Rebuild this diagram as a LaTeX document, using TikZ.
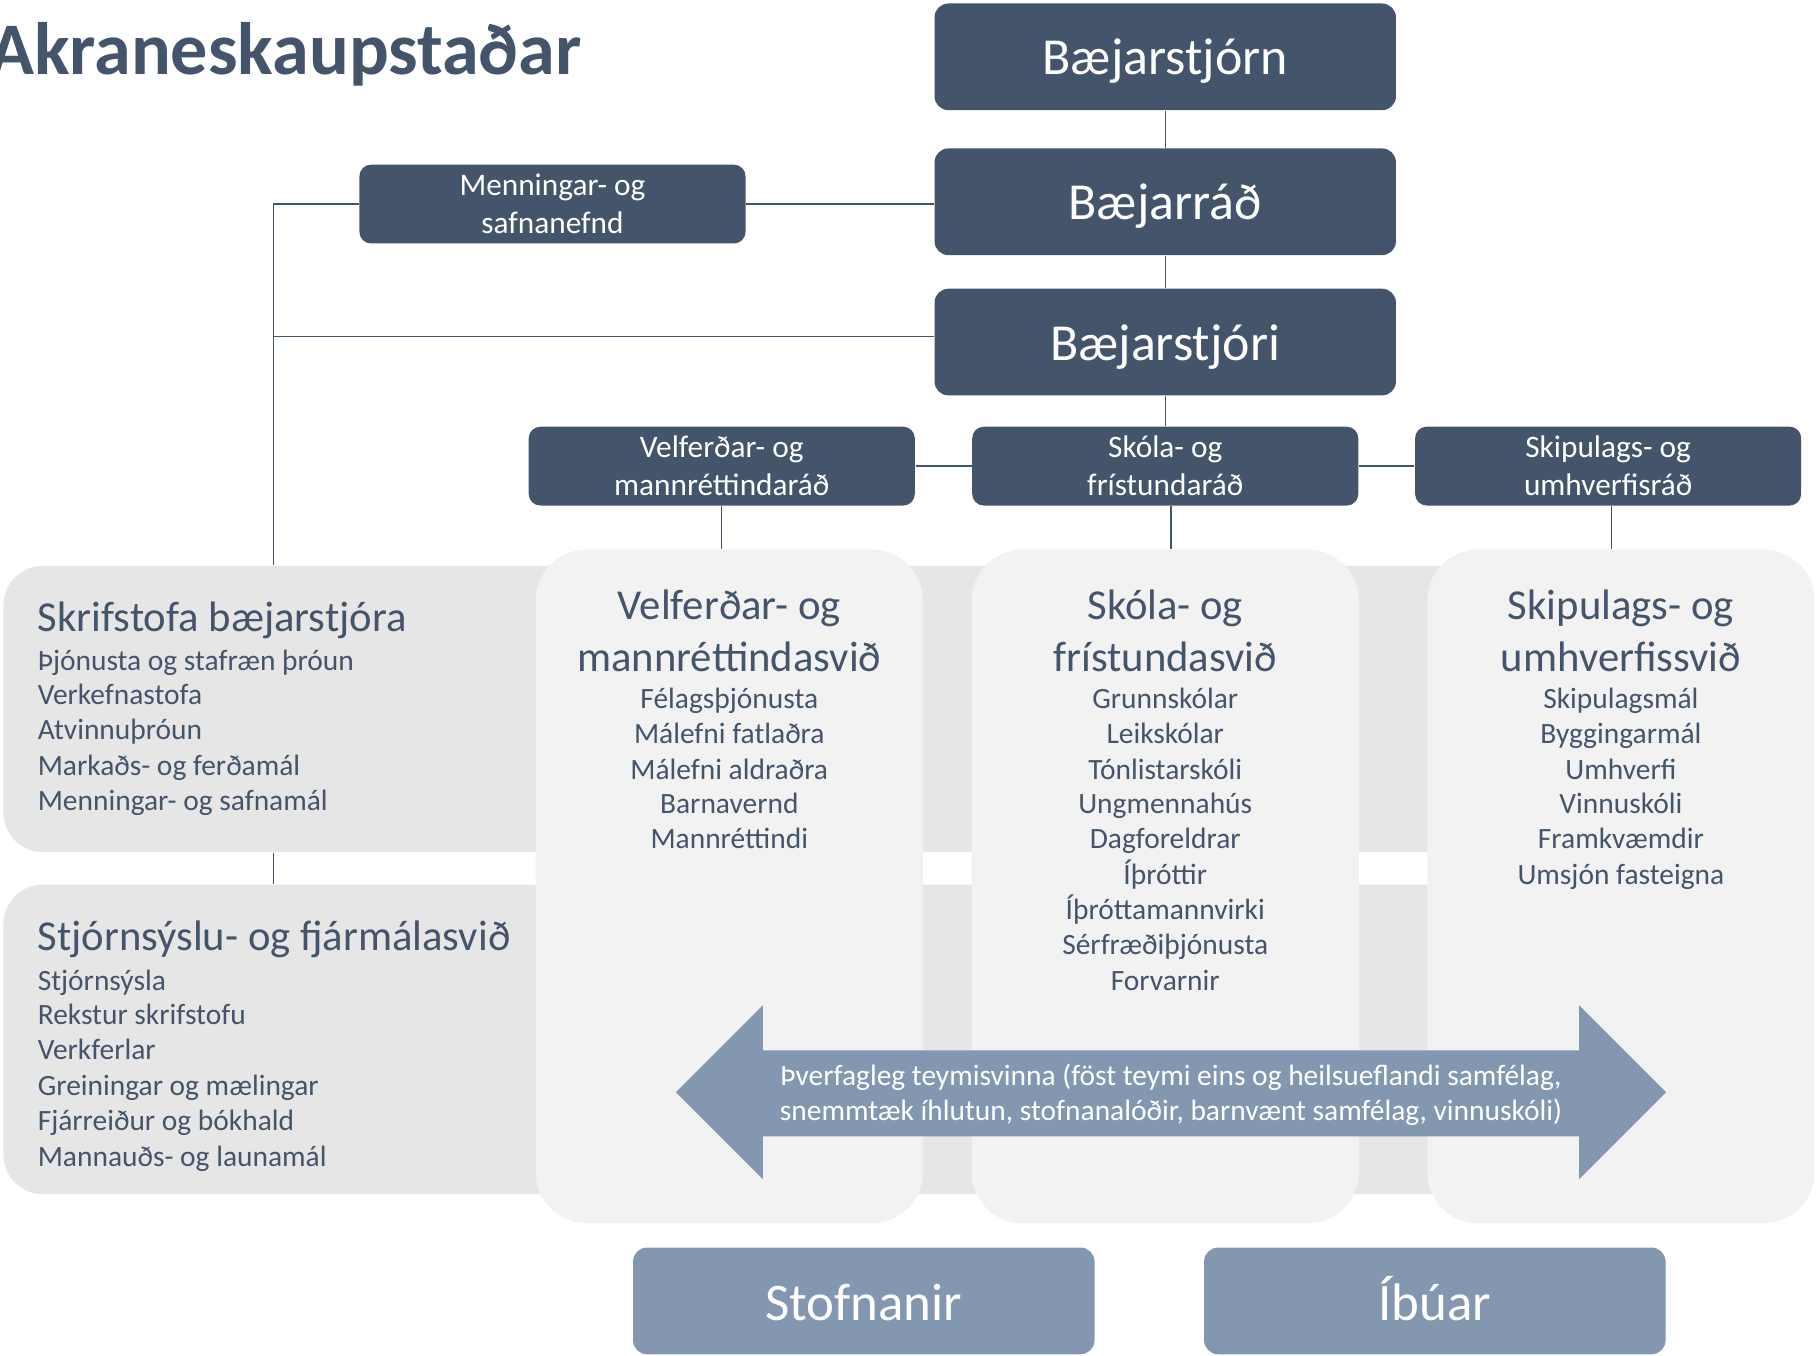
\documentclass[tikz,border=0pt]{standalone}
\usepackage{fontspec}
\setmainfont{Carlito}
\definecolor{slate}{HTML}{44546A}
\definecolor{steel}{HTML}{8497B0}
\definecolor{bandgrey}{HTML}{E7E6E6}
\definecolor{colgrey}{HTML}{F2F2F2}
\tikzset{every picture/.style={line width=0.6pt},
  toprole/.style={fill=slate,text=white,rounded corners=6pt,minimum width=199pt,minimum height=46pt,inner sep=0pt,text height=17.5pt,text depth=2pt,font=\fontsize{22.4}{27}\selectfont},
  lowrole/.style={fill=steel,text=white,rounded corners=6pt,minimum width=199pt,minimum height=46pt,inner sep=0pt,text height=19pt,text depth=2pt,font=\fontsize{22.8}{27}\selectfont},
  council/.style={fill=slate,text=white,rounded corners=5pt,minimum width=166.5pt,minimum height=34pt,inner sep=0pt,align=center,font=\fontsize{13.5}{16.5}\selectfont},
  band/.style={fill=bandgrey,rounded corners=17pt,minimum width=773.5pt,inner sep=0pt},
  column/.style={fill=colgrey,rounded corners=22pt,minimum width=167pt,minimum height=290.5pt,inner sep=0pt},
  linkline/.style={draw=slate,line width=0.6pt},
  head/.style={text=slate,inner sep=0pt,font=\fontsize{18.4}{22.5}\selectfont},
  item/.style={text=slate,inner sep=0pt,font=\fontsize{12.7}{15.2}\selectfont}
}
\begin{document}
\begin{tikzpicture}[x=0.5pt,y=0.5pt,yscale=-1,xscale=1]
\useasboundingbox (0,0) rectangle (1568,1169);

%Shape: Band
\node [band,minimum height=123.5pt] (skrifband) at (776.5,611.5) {};
%Shape: Band
\node [band,minimum height=133.5pt] (stjband) at (776.5,896.5) {};
%Shape: Column
\node [column] (velcol) at (629,764.5) {};
%Shape: Column
\node [column] (skolacol) at (1005,764.5) {};
%Shape: Column
\node [column] (skipcol) at (1398,764.5) {};

%Shape: Double Arrow
\fill [steel] (583,942) -- (658,867) -- (658,906) -- (1362,906) -- (1362,867) -- (1437,942) -- (1362,1017) -- (1362,980) -- (658,980) -- (658,1017) -- cycle ;

%Shape: Rounded Rect
\node [toprole] (bjorn) at (1005,49) {Bæjarstjórn};
%Shape: Rounded Rect
\node [toprole] (brad) at (1005,174) {Bæjarráð};
%Shape: Rounded Rect
\node [toprole] (bstjori) at (1005,295) {Bæjarstjóri};
%Shape: Rounded Rect
\node [council] (menning) at (476.5,176) {Menningar- og\\safnanefnd};
%Shape: Rounded Rect
\node [council] (velrad) at (622.5,402) {Velferðar- og\\mannréttindaráð};
%Shape: Rounded Rect
\node [council] (skolarad) at (1005,402) {Skóla- og\\frístundaráð};
%Shape: Rounded Rect
\node [council] (skiprad) at (1387,402) {Skipulags- og\\umhverfisráð};
%Shape: Rounded Rect
\node [lowrole] (stofn) at (745,1122) {Stofnanir};
%Shape: Rounded Rect
\node [lowrole] (ibuar) at (1237.5,1122) {Íbúar};

%Straight Lines
\draw [linkline] (bjorn.south) -- (brad.north) ;
%Straight Lines
\draw [linkline] (brad.south) -- (bstjori.north) ;
%Straight Lines
\draw [linkline] (bstjori.south) -- (skolarad.north) ;
%Straight Lines
\draw [linkline] (menning.east) -- (menning.east -| brad.west) ;
\coordinate (spine) at (236,176);
%Straight Lines
\draw [linkline] (menning.west) -- (spine) -- (spine |- skrifband.north) ;
%Straight Lines
\draw [linkline] ([yshift=-2.5pt]bstjori.west) -- ([yshift=-2.5pt]bstjori.west -| spine) ;
%Straight Lines
\draw [linkline] (spine |- skrifband.south) -- (spine |- stjband.north) ;
%Straight Lines
\draw [linkline] (velrad.east) -- (skolarad.west) ;
%Straight Lines
\draw [linkline] (skolarad.east) -- (skiprad.west) ;
%Straight Lines
\draw [linkline] (velrad.south) -- (velrad.south |- velcol.north) ;
%Straight Lines
\draw [linkline] ([xshift=2.5pt]skolarad.south) -- ([xshift=2.5pt]skolarad.south |- skolacol.north) ;
%Straight Lines
\draw [linkline] ([xshift=1.5pt]skiprad.south) -- ([xshift=1.5pt]skiprad.south |- skipcol.north) ;

% Text Node
\node [anchor=base west,inner sep=0pt,text=slate,font=\fontsize{32}{39}\selectfont\bfseries] (titill) at (-10,64) {Akraneskaupstaðar};

% Text Node
\node [head,anchor=base west] (skr0) at (32,545) {Skrifstofa bæjarstjóra};
\node [item,anchor=base west] (skr1) at (32,578) {Þjónusta og stafræn þróun};
\node [item,anchor=base west] (skr2) at (32,608) {Verkefnastofa};
\node [item,anchor=base west] (skr3) at (32,638) {Atvinnuþróun};
\node [item,anchor=base west] (skr4) at (32,669) {Markaðs- og ferðamál};
\node [item,anchor=base west] (skr5) at (32,699) {Menningar- og safnamál};

% Text Node
\node [head,anchor=base west] (stj0) at (32,820) {Stjórnsýslu- og fjármálasvið};
\node [item,anchor=base west] (stj1) at (32,854) {Stjórnsýsla};
\node [item,anchor=base west] (stj2) at (32,884) {Rekstur skrifstofu};
\node [item,anchor=base west] (stj3) at (32,914) {Verkferlar};
\node [item,anchor=base west] (stj4) at (32,945) {Greiningar og mælingar};
\node [item,anchor=base west] (stj5) at (32,975) {Fjárreiður og bókhald};
\node [item,anchor=base west] (stj6) at (32,1006) {Mannauðs- og launamál};

% Text Node
\node [head,anchor=base] (vel0a) at (629,534) {Velferðar- og};
\node [head,anchor=base] (vel0b) at (629,579) {mannréttindasvið};
\node [item,anchor=base] (vel1) at (629,611) {Félagsþjónusta};
\node [item,anchor=base] (vel2) at (629,641) {Málefni fatlaðra};
\node [item,anchor=base] (vel3) at (629,672) {Málefni aldraðra};
\node [item,anchor=base] (vel4) at (629,702) {Barnavernd};
\node [item,anchor=base] (vel5) at (629,732) {Mannréttindi};

% Text Node
\node [head,anchor=base] (sko0a) at (1005,534) {Skóla- og};
\node [head,anchor=base] (sko0b) at (1005,579) {frístundasvið};
\node [item,anchor=base] (sko1) at (1005,611) {Grunnskólar};
\node [item,anchor=base] (sko2) at (1005,641) {Leikskólar};
\node [item,anchor=base] (sko3) at (1005,672) {Tónlistarskóli};
\node [item,anchor=base] (sko4) at (1005,702) {Ungmennahús};
\node [item,anchor=base] (sko5) at (1005,732) {Dagforeldrar};
\node [item,anchor=base] (sko6) at (1005,763) {Íþróttir};
\node [item,anchor=base] (sko7) at (1005,793) {Íþróttamannvirki};
\node [item,anchor=base] (sko8) at (1005,823) {Sérfræðiþjónusta};
\node [item,anchor=base] (sko9) at (1005,854) {Forvarnir};

% Text Node
\node [head,anchor=base] (ski0a) at (1398,534) {Skipulags- og};
\node [head,anchor=base] (ski0b) at (1398,579) {umhverfissvið};
\node [item,anchor=base] (ski1) at (1398,611) {Skipulagsmál};
\node [item,anchor=base] (ski2) at (1398,641) {Byggingarmál};
\node [item,anchor=base] (ski3) at (1398,672) {Umhverfi};
\node [item,anchor=base] (ski4) at (1398,702) {Vinnuskóli};
\node [item,anchor=base] (ski5) at (1398,732) {Framkvæmdir};
\node [item,anchor=base] (ski6) at (1398,763) {Umsjón fasteigna};

% Text Node
\node [item,anchor=base,text=white] (arr1) at (1010,936) {Þverfagleg teymisvinna (föst teymi eins og heilsueflandi samfélag,};
\node [item,anchor=base,text=white] (arr2) at (1010,966) {snemmtæk íhlutun, stofnanalóðir, barnvænt samfélag, vinnuskóli)};

\end{tikzpicture}
\end{document}
